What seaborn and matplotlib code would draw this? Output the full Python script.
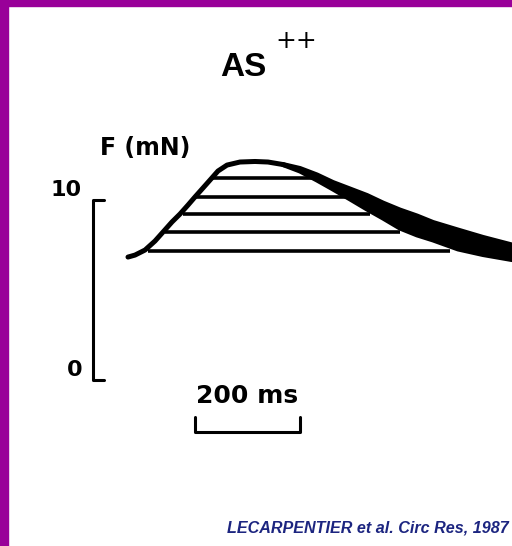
import numpy as np
import pandas as pd
import matplotlib
matplotlib.use("Agg")
import matplotlib.pyplot as plt
import seaborn as sns
from matplotlib.patches import Rectangle

# force trace, upper (outer) curve: time in ms, force in mN
upper_t = [0, 13.3, 32.4, 51.4, 66.7, 83.8, 99.0, 114.3, 127.6, 142.9, 158.1,
           171.4, 188.6, 213.3, 241.9, 266.7, 295.2, 327.6, 360.0, 390.5,
           422.9, 455.2, 485.7, 518.1, 550.5, 581.0, 628.6, 676.2, 731.4]
upper_f = [6.83, 6.94, 7.22, 7.72, 8.22, 8.78, 9.22, 9.72, 10.17, 10.67, 11.17,
           11.61, 11.94, 12.11, 12.14, 12.11, 11.97, 11.75, 11.39, 10.97,
           10.61, 10.25, 9.83, 9.44, 9.11, 8.75, 8.33, 7.92, 7.50]

# lower curve of the relaxation band
lower_t = [295.2, 327.6, 360.0, 390.5, 422.9, 455.2, 485.7, 518.1, 550.5,
           581.0, 628.6, 676.2, 731.4]
lower_f = [11.97, 11.61, 11.11, 10.61, 10.06, 9.50, 9.00, 8.44, 8.06,
           7.78, 7.28, 6.97, 6.69]

# hatch lines (force level, start, end in ms)
hatch_f = [11.22, 10.17, 9.22, 8.22, 7.17]
hatch_start = [161.9, 127.6, 104.8, 70.5, 38.1]
hatch_end = [371.4, 417.1, 461.0, 518.1, 613.3]

# scale bars
force_bar = [0, 10]      # mN
time_bar = [127.6, 327.6]  # ms (200 ms)

sns.set_style("white")
plt.rcParams["text.color"] = "black"

fig = plt.figure(figsize=(5.12, 5.46), dpi=100)
ax = fig.add_axes([0, 0, 1, 1])
ax.set_xlim(-243.8, 731.4)
ax.set_ylim(-9.222, 21.111)
ax.axis("off")

up = pd.DataFrame({"t": upper_t, "F": upper_f})
lo = pd.DataFrame({"t": lower_t, "F": lower_f})

# relaxation band
ax.fill_between(lower_t, np.interp(lower_t, upper_t, upper_f), lower_f,
                color="black", lw=0)
sns.lineplot(data=up, x="t", y="F", sort=False, estimator=None, color="black",
             lw=3.6, ax=ax, solid_capstyle="round")
sns.lineplot(data=lo, x="t", y="F", sort=False, estimator=None, color="black",
             lw=3.6, ax=ax, solid_capstyle="round")

ax.hlines(hatch_f, hatch_start, hatch_end, color="black", lw=2.6)

# force scale bar
ax.plot([-45.7, -66.7, -66.7, -45.7],
        [force_bar[1], force_bar[1], force_bar[0], force_bar[0]],
        color="black", lw=2.2)
ax.text(-87.6, force_bar[1], "10", ha="right", va="bottom",
        fontsize=16, fontweight="bold")
ax.text(-87.6, force_bar[0], "0", ha="right", va="bottom",
        fontsize=16, fontweight="bold")
ax.text(-53.3, 12.9, "F (mN)", ha="left", va="center",
        fontsize=17, fontweight="bold")

# time scale bar
ax.plot([time_bar[0], time_bar[0], time_bar[1], time_bar[1]],
        [-2.04, -2.87, -2.87, -2.04], color="black", lw=2.2)
ax.text(sum(time_bar) / 2, -0.89, "200 ms", ha="center", va="center",
        fontsize=18, fontweight="bold")

# title
ax.text(175.2, 16.89, "AS", ha="left", va="baseline",
        fontsize=24, fontweight="bold", family="Liberation Sans")
ax.text(280, 18.83, "++", ha="left", va="center", fontsize=18)

ax.text(188.6, -8.22, "LECARPENTIER et al. Circ Res, 1987", ha="left",
        va="center", fontsize=11.6, fontweight="bold", style="italic",
        family="Liberation Sans", color="#1c2580")

# purple frame
fig.patches.append(Rectangle((0, 0), 8 / 512, 1, transform=fig.transFigure,
                             color="#990099", zorder=10))
fig.patches.append(Rectangle((0, 1 - 6 / 546), 1, 6 / 546,
                             transform=fig.transFigure, color="#990099",
                             zorder=10))

fig.savefig("out.png", dpi=100)
